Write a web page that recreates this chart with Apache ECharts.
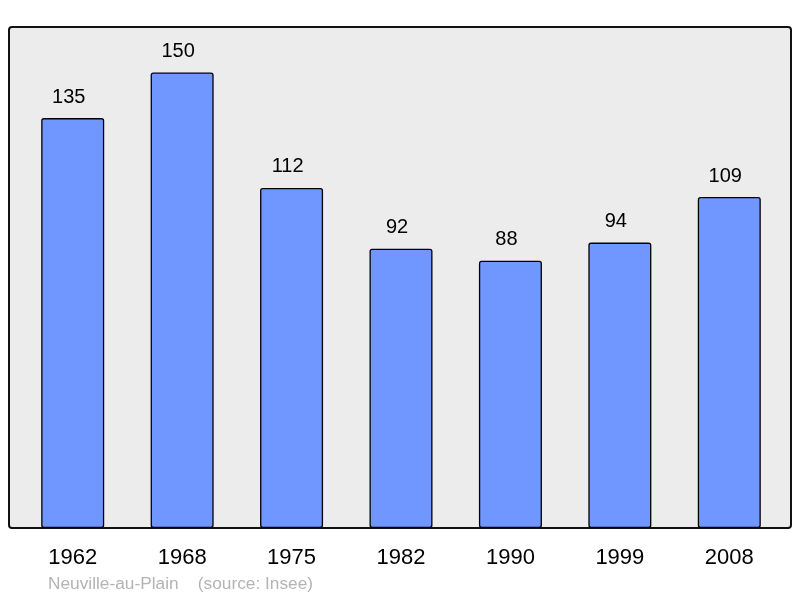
<!DOCTYPE html>
<html>
<head>
<meta charset="utf-8">
<script src="https://cdn.jsdelivr.net/npm/echarts@6/dist/echarts.min.js"></script>
<style>
  html, body { margin: 0; padding: 0; background: #fff; }
  #chart { width: 800px; height: 598px; }
</style>
</head>
<body>
<div id="chart"></div>
<script>
const years = ['1962', '1968', '1975', '1982', '1990', '1999', '2008']
const population = [135, 150, 112, 92, 88, 94, 109]
const footer = 'Neuville-au-Plain    (source: Insee)'

const chart = echarts.init(document.getElementById('chart'))

chart.setOption({
  animation: false,
  textStyle: { fontFamily: 'Liberation Sans, Arial, sans-serif' },
  graphic: [
    {
      type: 'rect',
      shape: { x: 9, y: 27, width: 782, height: 501, r: 3 },
      style: { fill: '#ececec', stroke: '#111', lineWidth: 2 },
      z: -1
    },
    {
      type: 'text',
      left: 48,
      top: 576,
      style: { text: footer, fill: '#b4b4b4', fontSize: 17.3, fontFamily: 'Liberation Sans, Arial, sans-serif' }
    }
  ],
  grid: { left: 18, right: 16, top: 27, bottom: 70 },
  xAxis: {
    type: 'category',
    data: years,
    axisLine: { show: false },
    axisTick: { show: false },
    axisLabel: { color: '#000', fontSize: 22, margin: 19 }
  },
  yAxis: {
    type: 'value',
    min: 0,
    max: 165,
    show: false,
    splitLine: { show: false }
  },
  series: [{
    type: 'bar',
    data: population,
    barWidth: 63,
    itemStyle: { color: '#7097ff', borderColor: '#000', borderWidth: 1.3, borderRadius: 2 },
    label: { show: true, position: 'top', distance: 11, offset: [-4, 0], color: '#000', fontSize: 20 }
  }]
})
</script>
</body>
</html>
